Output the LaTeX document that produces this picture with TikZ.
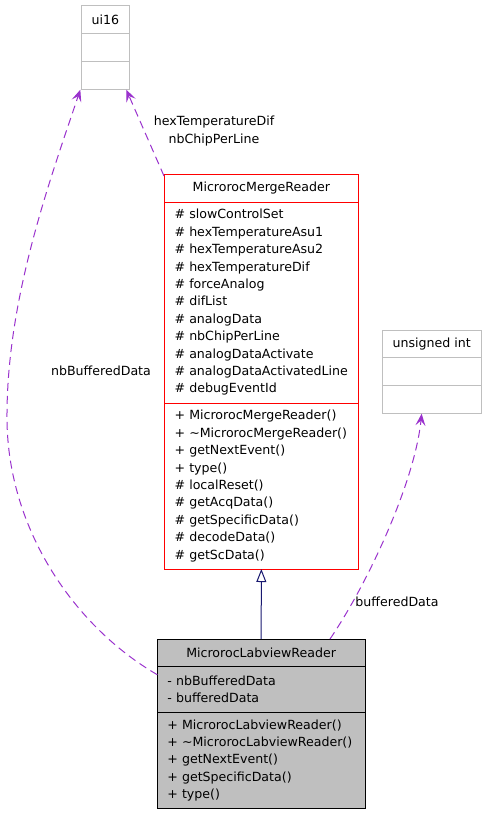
\documentclass[tikz,border=0pt]{standalone}
\usepackage{fontspec}
\setmainfont{DejaVu Sans}
\usepackage{xcolor}
\usetikzlibrary{positioning,calc,arrows.meta}
\definecolor{edgepurple}{HTML}{9A32CD}
\definecolor{edgenavy}{HTML}{191970}
\definecolor{boxgray}{HTML}{BFBFBF}
\hyphenpenalty=10000
\exhyphenpenalty=10000

\begin{document}
\begin{tikzpicture}[x=1pt, y=-1pt, node distance=0pt,
    font=\fontsize{12.6}{17.4}\selectfont,
    part/.style={draw, rectangle, line width=1pt, inner sep=0pt, outer sep=0pt},
    ext/.style={part, draw=boxgray},
    dep/.style={draw=edgepurple, line width=1pt, dash pattern=on 8pt off 5pt, -{Stealth[length=12pt, width=10pt, inset=5pt]}},
    inh/.style={draw=edgenavy, line width=1pt, -{Triangle[open, length=13pt, width=10pt, fill=white]}},
    lbl/.style={inner sep=0pt, align=center}]
    \useasboundingbox (0,0) rectangle (487,816);

    \node[ext, anchor=north west, minimum width=48pt, minimum height=28pt] (u16h) at (81.3,5.7) {ui16};
    \node[ext, below=of u16h, minimum width=48pt, minimum height=28pt] (u16a) {};
    \node[ext, below=of u16a, minimum width=48pt, minimum height=28pt] (u16m) {};

    \node[ext, anchor=north west, minimum width=98.7pt, minimum height=27.7pt] (uih) at (382.3,330) {unsigned int};
    \node[ext, below=of uih, minimum width=98.7pt, minimum height=28pt] (uia) {};
    \node[ext, below=of uia, minimum width=98.7pt, minimum height=28pt] (uim) {};

    \node[part, draw=red, anchor=north west, minimum width=194.7pt, minimum height=28pt] (mrh) at (164,174) {MicrorocMergeReader};
    \node[part, draw=red, below=of mrh, minimum height=201pt, inner xsep=10.5pt, text width=173.7pt, align=left] (mra) {\# slowControlSet\\\# hexTemperatureAsu1\\\# hexTemperatureAsu2\\\# hexTemperatureDif\\\# forceAnalog\\\# difList\\\# analogData\\\# nbChipPerLine\\\# analogDataActivate\\\# analogDataActivatedLine\\\# debugEventId};
    \node[part, draw=red, below=of mra, minimum height=166pt, inner xsep=10.5pt, text width=173.7pt, align=left] (mrm) {+ MicrorocMergeReader()\\+ \textasciitilde MicrorocMergeReader()\\+ getNextEvent()\\+ type()\\\# localReset()\\\# getAcqData()\\\# getSpecificData()\\\# decodeData()\\\# getScData()};

    \node[part, fill=boxgray, anchor=north west, minimum width=207.7pt, minimum height=27.7pt] (lvh) at (157.3,639) {MicrorocLabviewReader};
    \node[part, fill=boxgray, below=of lvh, minimum height=45.6pt, inner xsep=10pt, text width=187.7pt, align=left] (lva) {- nbBufferedData\\- bufferedData};
    \node[part, fill=boxgray, below=of lva, minimum height=96.4pt, inner xsep=10pt, text width=187.7pt, align=left] (lvm) {+ MicrorocLabviewReader()\\+ \textasciitilde MicrorocLabviewReader()\\+ getNextEvent()\\+ getSpecificData()\\+ type()};

    \draw[inh] (lvh.north) -- (mrm.south);
    \draw[dep] ([yshift=-8pt]lva.north west) .. controls (75,627) and (8,530) .. (7,420) .. controls (6,300) and (50,180) .. ([xshift=-1pt]u16m.south west);
    \draw[dep] ([yshift=-2pt]mrh.north west) -- ([xshift=-3pt]u16m.south east);
    \draw[dep] ([xshift=-35pt]lvh.north east) .. controls (370,580) and (415,480) .. ([xshift=-10pt]uim.south);

    \node[lbl] (nbl) at (101,371) {nbBufferedData};
    \node[lbl] (hxl) at (214,131) {hexTemperatureDif\\nbChipPerLine};
    \node[lbl] (bfl) at (397,602) {bufferedData};
\end{tikzpicture}
\end{document}
